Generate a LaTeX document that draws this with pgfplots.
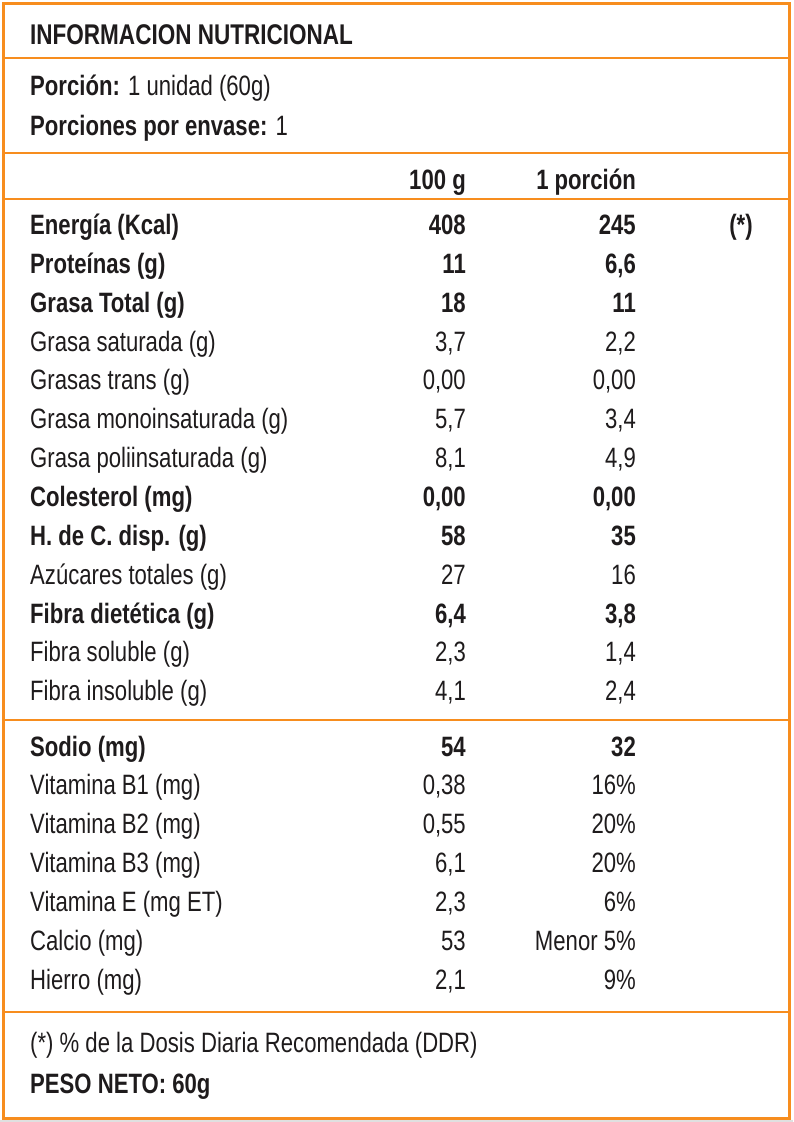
\documentclass[border=0pt]{standalone}
\usepackage{pgfplots}
\pgfplotsset{compat=1.18}
\usepackage{pgfplotstable}
\usepackage{fontspec}
\setmainfont{Liberation Sans}[FakeStretch=0.79]

\definecolor{naranja}{RGB}{247,141,30}
\definecolor{texto}{RGB}{30,27,28}

% etiquetas (y = linea base, en px de la imagen)
\pgfplotstableread[col sep=semicolon]{
y;txt
234;Energía (Kcal)
273;Proteínas (g)
312;Grasa Total (g)
506;Colesterol (mg)
545;H. de C. disp. (g)
623;Fibra dietética (g)
756;Sodio (mg)
1093;PESO NETO: 60g
}\labB

\pgfplotstableread[col sep=semicolon]{
y;txt
351;Grasa saturada (g)
389;Grasas trans (g)
428;Grasa monoinsaturada (g)
467;Grasa poliinsaturada (g)
584;Azúcares totales (g)
661;Fibra soluble (g)
700;Fibra insoluble (g)
794;Vitamina B1 (mg)
833;Vitamina B2 (mg)
872;Vitamina B3 (mg)
911;Vitamina E (mg ET)
950;Calcio (mg)
989;Hierro (mg)
1052;(*) \% de la Dosis Diaria Recomendada (DDR)
}\labN

\pgfplotstableread[col sep=semicolon]{
y;txt
95;\textbf{Porción:} 1 unidad (60g)
135;\textbf{Porciones por envase:} 1
}\labMix

% columna 100 g
\pgfplotstableread[col sep=semicolon]{
y;txt
189;100 g
234;408
273;11
312;18
506;0,00
545;58
623;6,4
756;54
}\colAB
\pgfplotstableread[col sep=semicolon]{
y;txt
351;3,7
389;0,00
428;5,7
467;8,1
584;27
661;2,3
700;4,1
794;0,38
833;0,55
872;6,1
911;2,3
950;53
989;2,1
}\colAN

% columna 1 porcion
\pgfplotstableread[col sep=semicolon]{
y;txt
189;1 porción
234;245
273;6,6
312;11
506;0,00
545;35
623;3,8
756;32
}\colBB
\pgfplotstableread[col sep=semicolon]{
y;txt
351;2,2
389;0,00
428;3,4
467;4,9
584;16
661;1,4
700;2,4
794;16\%
833;20\%
872;20\%
911;6\%
950;Menor 5\%
989;9\%
}\colBN

\begin{document}
\begin{tikzpicture}
\begin{axis}[
  width=793pt, height=1122pt, scale only axis,
  xmin=0, xmax=793, ymin=0, ymax=1122, y dir=reverse,
  axis lines=none, clip=false,
  every node near coord/.append style={inner sep=0pt, text=texto,
    font=\fontsize{28}{34}\selectfont},
]
% fondo
\addplot[draw=none, fill=white] coordinates {(0,0) (793,0) (793,1122) (0,1122)} -- cycle;
\addplot[draw=none, fill=black!12] coordinates {(0,1119.5) (793,1119.5) (793,1122) (0,1122)} -- cycle;

% lineas
\addplot[naranja, line width=3pt] coordinates {(3,3) (789,3) (789,1118) (3,1118) (3,3) (789,3)};
\addplot[naranja, line width=2.8pt] coordinates {(3,58) (789,58)};
\addplot[naranja, line width=2.8pt] coordinates {(3,153) (789,153)};
\addplot[naranja, line width=2.8pt] coordinates {(3,199) (789,199)};
\addplot[naranja, line width=2.8pt] coordinates {(3,720) (789,720)};
\addplot[naranja, line width=2.8pt] coordinates {(3,1012) (789,1012)};

% titulo
\addplot[draw=none, mark=none, nodes near coords, point meta=explicit symbolic,
  every node near coord/.append style={anchor=base west, font=\fontsize{28.5}{34}\selectfont\bfseries}]
  coordinates {(30,44) [INFORMACION NUTRICIONAL]};

\addplot[draw=none, mark=none, nodes near coords, point meta=explicit symbolic,
  every node near coord/.append style={anchor=base west}]
  table[x expr=30, y=y, meta=txt] {\labMix};
\addplot[draw=none, mark=none, nodes near coords, point meta=explicit symbolic,
  every node near coord/.append style={anchor=base west, font=\fontsize{28}{34}\selectfont\bfseries}]
  table[x expr=30, y=y, meta=txt] {\labB};
\addplot[draw=none, mark=none, nodes near coords, point meta=explicit symbolic,
  every node near coord/.append style={anchor=base west}]
  table[x expr=30, y=y, meta=txt] {\labN};

\addplot[draw=none, mark=none, nodes near coords, point meta=explicit symbolic,
  every node near coord/.append style={anchor=base east, font=\fontsize{28}{34}\selectfont\bfseries}]
  table[x expr=466, y=y, meta=txt] {\colAB};
\addplot[draw=none, mark=none, nodes near coords, point meta=explicit symbolic,
  every node near coord/.append style={anchor=base east}]
  table[x expr=466, y=y, meta=txt] {\colAN};
\addplot[draw=none, mark=none, nodes near coords, point meta=explicit symbolic,
  every node near coord/.append style={anchor=base east, font=\fontsize{28}{34}\selectfont\bfseries}]
  table[x expr=636, y=y, meta=txt] {\colBB};
\addplot[draw=none, mark=none, nodes near coords, point meta=explicit symbolic,
  every node near coord/.append style={anchor=base east}]
  table[x expr=636, y=y, meta=txt] {\colBN};

\addplot[draw=none, mark=none, nodes near coords, point meta=explicit symbolic,
  every node near coord/.append style={anchor=base, font=\fontsize{28}{34}\selectfont\bfseries}]
  coordinates {(741,234) [(*)]};
\end{axis}
\end{tikzpicture}
\end{document}
